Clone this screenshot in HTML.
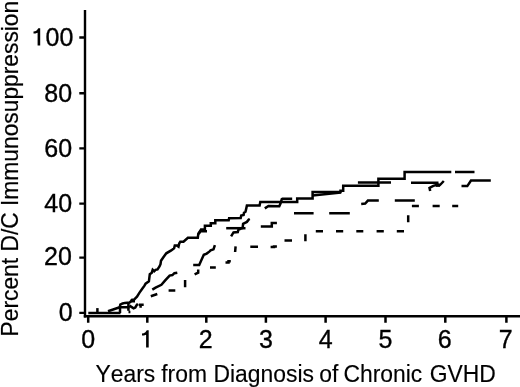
<!DOCTYPE html>
<html><head><meta charset="utf-8"><style>
html,body{margin:0;padding:0;background:#fff;}
body{width:520px;height:387px;overflow:hidden;}
svg{display:block;filter:grayscale(1);}
text{font-family:"Liberation Sans",sans-serif;fill:#000;font-kerning:none;}
</style></head><body>
<svg width="520" height="387" viewBox="0 0 520 387">
<g stroke="#000" stroke-width="2.3" fill="none" stroke-linecap="butt">
<!-- axes -->
<line x1="85" y1="10" x2="85" y2="317.5" stroke-width="2.4"/>
<line x1="83.8" y1="316.3" x2="520" y2="316.3" stroke-width="2.4"/>
<!-- y ticks -->
<path d="M79.3 37.5H84.8M79.3 93.25H84.8M79.3 148.3H84.8M79.3 203.7H84.8M79.3 257.6H84.8M79.3 312.8H84.8"/>
<!-- x ticks -->
<path stroke-width="2.5" d="M88.2 317V322.7M147.3 317V322.7M206.3 317V322.7M265.9 317V322.7M325.6 317V322.7M385.5 317V322.7M445.3 317V322.7M506.4 317V322.7"/>
</g>
<g font-size="25" text-anchor="end" stroke="#000" stroke-width="0.35">
<text x="73.3" y="46.2">00</text>
<text x="72.1" y="101.8">80</text>
<text x="72.1" y="157.2">60</text>
<text x="72.1" y="211.9">40</text>
<text x="71.9" y="265">20</text>
<text x="72.7" y="321.1">0</text>
</g>
<g font-size="25" text-anchor="middle" stroke="#000" stroke-width="0.35">
<text x="88.2" y="347.6">0</text>
<text x="205.6" y="347.6">2</text>
<text x="265.9" y="347.6">3</text>
<text x="325.6" y="347.6">4</text>
<text x="385.5" y="347.6">5</text>
<text x="444.6" y="347.6">6</text>
<text x="505.7" y="347.6">7</text>
</g>
<path fill="#000" d="M40.2 45.6V28.2H38.3L36.9 30.3L35.2 31.2L33.5 31.6V33.6L35.4 33.5L37.6 32.7V45.6Z M148.7 347.6V330.2H146.8L145.4 332.3L143.7 333.2L142.0 333.6V335.6L143.9 335.5L146.1 334.7V347.6Z"/>
<g font-size="23.6" stroke="#000" stroke-width="0.15">
<text transform="translate(95.50,382) scale(0.97,1)">Years</text>
<text transform="translate(161.18,382) scale(0.97,1)">from</text>
<text transform="translate(213.52,382) scale(0.97,1)">Diagnosis</text>
<text transform="translate(319.24,382) scale(0.97,1)">of</text>
<text transform="translate(343.44,382) scale(0.97,1)">Chronic</text>
<text transform="translate(429.75,382) scale(0.97,1)">GVHD</text>
</g>
<text transform="translate(17.5,336.4) rotate(-90) scale(0.97,1)" font-size="23.5" stroke="#000" stroke-width="0.2">Percent D/C Immunosuppression</text>

<g stroke="#000" stroke-width="2.5" fill="none" stroke-linejoin="miter" stroke-linecap="butt">
<!-- baseline shared -->
<path d="M88.3 312.9H120.5"/>
<path d="M97.4 312.9V308.1"/>
<path d="M120 312.9V307.3H128.4V303"/>
<path d="M128.4 306.5V310.8M128.5 312H130.4"/>
<path stroke-width="3" d="M130.8 301H135"/>
<path d="M129.4 305.6L133.6 308.4L135.3 307.5L137 304.7L138 303.9M138.8 304.7H143.7M140.6 304.7V307.8"/>
<!-- Solid -->
<path d="M108 311.3L119.8 307.2L120.3 304.7L122.6 303.5L124.9 302.9L129.5 302.6L131.3 300.9L131.8 299.8L134.2 299.5L135.3 298.3L137 296.6L139.5 292.6L142.6 288.2L144.5 285.7L145.6 283.6L148.9 281.4L149.8 274.2L151.8 272.7L152.7 269.8L154.2 271.2L155.6 269.8L157.5 269.4L159.5 266.4L160.5 264.2L161 260.8L163.2 257.5L166.3 253.3L171.2 250.4L174.1 248.2L174.8 245.4H176.7L178.5 246.6L179.2 243.5L180.3 241.7H183.5L187.9 237.8H197.8L198.3 233.7L200.5 230.5L201 229.6H204.9V225.7H210.8V223.2H215.3V220.2H228.7L229.1 218.3L240.7 218L241.2 215.5L243.6 215L244 212.7L245.5 211.8L246.4 207.9L246.9 205.6H259.6L260.3 202.1H297.2V198.5H312.6V191.9H340.5V190.8H343.2V185.7H378.4V178.8H404.6V172H451.3"/>
<path d="M455 172H474.5"/>
<!-- Long dash L -->
<path d="M152.3 289.6L155.6 287.6L161.4 284.8L165.2 280.4L169.6 275.6L172.4 275.1L174.4 273.2L177.3 272.7"/>
<path d="M193.2 264.9H199.2L201.2 260.5L203.8 254.8L206.7 253.6L209.6 251.4L210.6 250.4L213.5 249.3L214.9 245.1"/>
<path d="M231.1 236.3L233.5 232.4L237.8 232L238.3 230L240.7 228.6L242.6 228.1L243.1 223.8L245 222.8L246.9 221.9L248.8 219.5L249.8 219"/>
<path d="M264.8 208.4L268.5 205.9L279.3 206.3L280.5 203.5L281.8 199.2L282.5 198.8H292.2"/>
<path d="M312.6 195.4L341 192.6"/>
<path d="M357.9 182.6H391M411 182.7H438.5"/>
<path d="M430.2 191L429.5 187.8L433.3 185.8L438 184.6L440 185L443.8 181"/><path stroke-width="2.6" d="M435.8 185.6H440"/>
<path d="M461.5 186.1H467.3L471 180.5H490.8"/>
<!-- Medium dash M -->
<path d="M198.6 234L200.5 231.3H207"/>
<path d="M226.2 228.2H245.5"/>
<path d="M260.8 226.5H271.8V223.1H276.9"/>
<path d="M294 213.2H313.6M329.2 213.2H349.8"/>
<path d="M361.2 203.9L365.2 203.5L367.9 200.6H378.8M394.8 200.5H414.8"/>
<!-- Short dash D -->
<path d="M150.8 296.2L157.3 294M168.6 290.5H175.3M185.1 280.1V287.2M194.6 274.3L198.2 272.6V269.6M210 267.4H215.8M225.5 262.6H228.5V261.2H230.8M235.6 246.4L235.1 252M250.3 246.8H258M270.6 247.1H274V246.4H276.9M284.5 240.6H292M305.4 234.2V241.2M315.8 231.3H323M336 231.3H343.2M356.3 231.3H363.3M376.6 231.3H383.8M396.8 231.3H404M408.2 215.3V222.3M411.9 205.9H418.9M432.6 205.9H439.7M452.2 205.9H458.2"/>
</g>
</svg>
</body></html>
